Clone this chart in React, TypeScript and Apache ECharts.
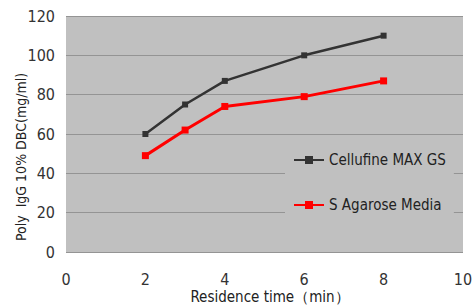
import React, { useEffect, useRef } from "react";
import * as echarts from "echarts";

const residenceTime = [2, 3, 4, 6, 8];
const cellufineMaxGS = [60, 75, 87, 100, 110];
const sAgaroseMedia = [49, 62, 74, 79, 87];
const seriesNames = ["Cellufine MAX GS", "S Agarose Media"];
const xTitle = "Residence time（min）";
const yTitle = "Poly  IgG 10% DBC(mg/ml)";

const FONT = "'DejaVu Sans Condensed', 'Liberation Sans Narrow', sans-serif";

export default function App() {
  const ref = useRef<HTMLDivElement>(null);
  useEffect(() => {
    if (!ref.current) return;
    const chart = echarts.init(ref.current, undefined, { renderer: "svg" });
    chart.setOption({
      animation: false,
      textStyle: { fontFamily: FONT },
      grid: {
        left: 66,
        right: 12,
        top: 16,
        bottom: 55,
        outerBoundsMode: "none",
        containLabel: false,
        show: true,
        backgroundColor: "#c0c0c0",
        borderWidth: 0,
      },
      xAxis: {
        type: "value",
        min: 0,
        max: 10,
        interval: 2,
        axisLine: { show: false },
        axisTick: { show: false },
        splitLine: { show: false },
        axisLabel: { fontFamily: FONT, fontSize: 16, color: "#333", margin: 19, lineHeight: 17 },
      },
      yAxis: {
        type: "value",
        min: 0,
        max: 120,
        interval: 20,
        axisLine: { show: false },
        axisTick: { show: false },
        splitLine: { show: true, lineStyle: { color: "#949494", width: 1 } },
        axisLabel: { fontFamily: FONT, fontSize: 16, color: "#333", margin: 11 },
      },
      legend: {
        orient: "vertical",
        left: 285,
        top: 140,
        padding: [10, 8, 10, 8],
        backgroundColor: "#c0c0c0",
        itemWidth: 30,
        itemHeight: 10,
        itemGap: 25,
        textStyle: { fontFamily: FONT, fontSize: 15, color: "#222", lineHeight: 20 },
        data: seriesNames,
      },
      graphic: [
        {
          type: "text",
          x: 21,
          y: 157,
          rotation: Math.PI / 2,
          style: {
            text: yTitle,
            font: `14px ${FONT}`,
            fill: "#222",
            textAlign: "center",
            textVerticalAlign: "middle",
          },
        },
        {
          type: "text",
          x: 270,
          y: 297,
          style: {
            text: xTitle,
            font: `15px ${FONT}`,
            fill: "#222",
            textAlign: "center",
            textVerticalAlign: "middle",
            lineHeight: 15,
          },
        },
      ],
      series: [
        {
          name: seriesNames[0],
          type: "line",
          data: residenceTime.map((x, i) => [x, cellufineMaxGS[i]]),
          symbol: "rect",
          symbolSize: 6,
          color: "#333333",
          lineStyle: { color: "#333333", width: 2.5 },
          itemStyle: { color: "#333333" },
        },
        {
          name: seriesNames[1],
          type: "line",
          data: residenceTime.map((x, i) => [x, sAgaroseMedia[i]]),
          symbol: "rect",
          symbolSize: 7,
          color: "#ff0000",
          lineStyle: { color: "#ff0000", width: 3 },
          itemStyle: { color: "#ff0000" },
        },
      ],
    });
    return () => chart.dispose();
  }, []);
  return <div ref={ref} style={{ width: 475, height: 307, position: "absolute", left: 0, top: 0, background: "#fff" }} />;
}
